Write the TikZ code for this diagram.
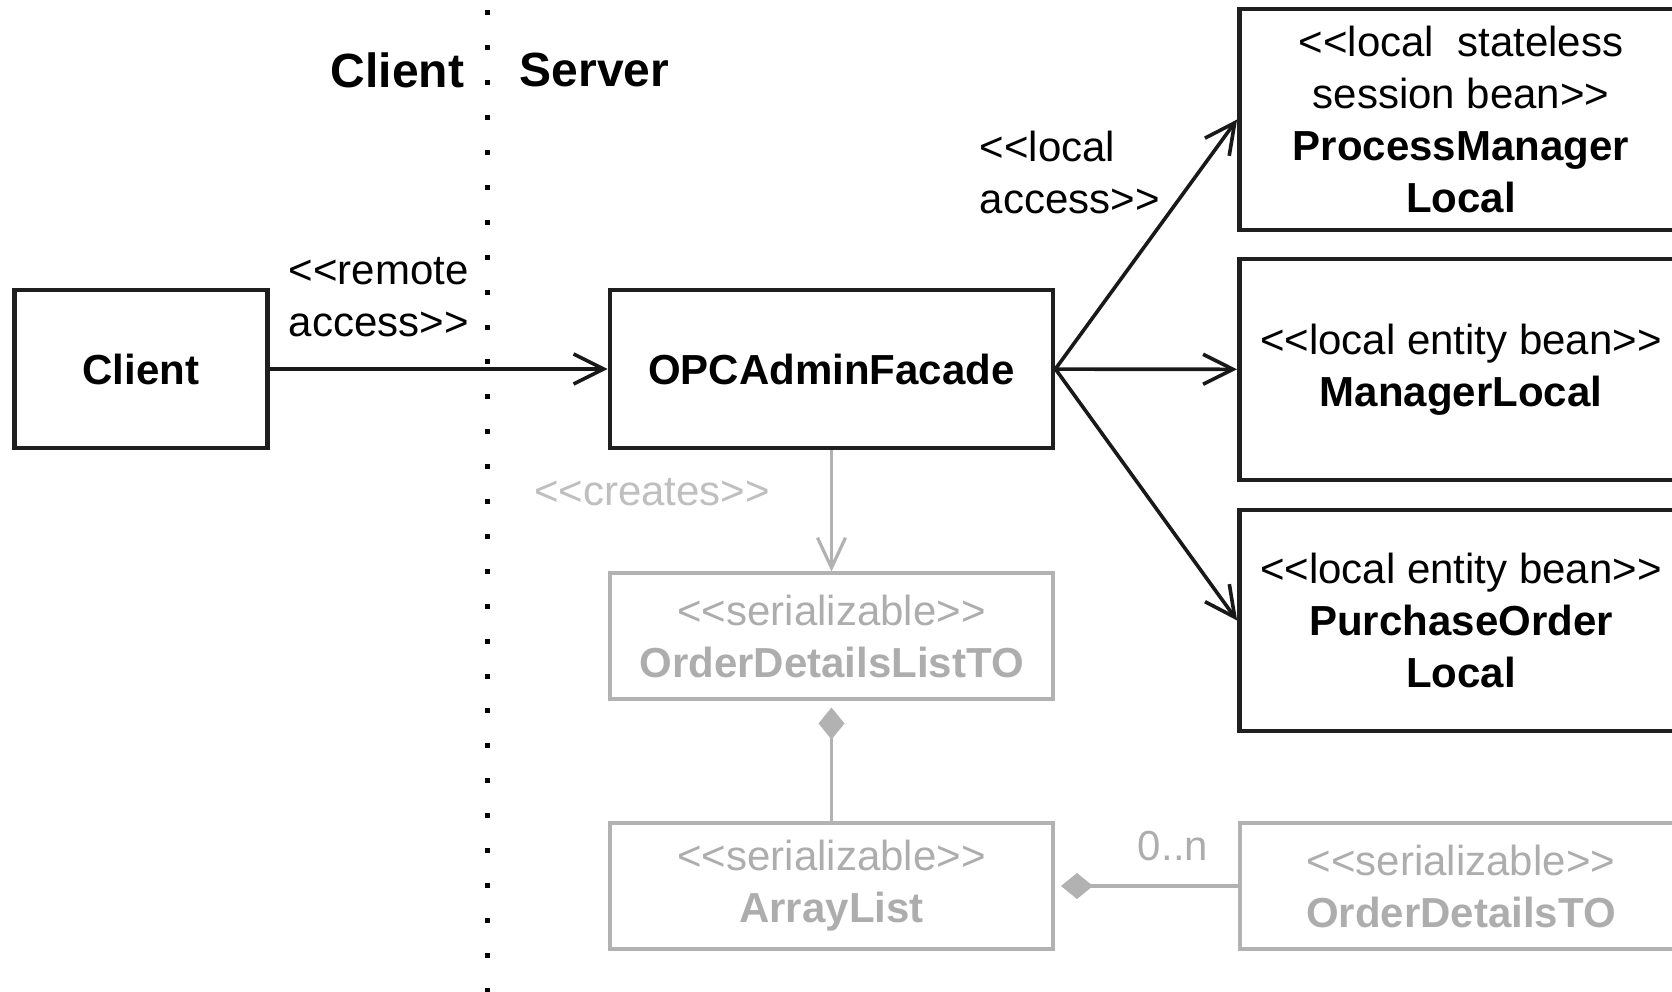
\documentclass[tikz,border=0pt]{standalone}
\usepackage{fontspec}
\setmainfont{Liberation Sans}
\usetikzlibrary{arrows.meta}
\newcommand{\sopen}{<\kern0pt<\kern0pt}
\newcommand{\sclose}{\kern0pt>\kern0pt>}
\tikzset{
    box/.style={draw=black!88, line width=1.2pt, align=center, inner sep=0pt,
        minimum width=110.75pt, minimum height=39.5pt},
    bean/.style={box, minimum height=55.25pt},
    faint/.style={draw=black!30, line width=1pt, text=black!32, align=center,
        inner sep=0pt, minimum width=110.75pt, minimum height=31.5pt},
    lbl/.style={inner sep=0pt, align=left},
    side/.style={inner sep=0pt, font=\fontsize{12pt}{14pt}\selectfont\bfseries},
    call/.style={draw=black!90, line width=0.9pt,
        -{Straight Barb[length=7.5pt,width=7.5pt]}},
    creates/.style={draw=black!30, line width=0.8pt,
        -{Straight Barb[length=7.5pt,width=7pt]}},
    part/.style={draw=black!30, line width=0.8pt, shorten >=1.5pt,
        -{Diamond[length=8pt,width=6.5pt]}}
}
\begin{document}
\begin{tikzpicture}[x=0.25pt, y=-0.25pt, font=\fontsize{10.5pt}{13pt}\selectfont]
    \clip (0,0) rectangle (1672,992);
    \foreach \i in {0,...,28} {
        \fill (484.5,{10.5+34.9*\i}) rectangle ++(5,5);
    }
    \node[side, anchor=east] (clientside) at (465,70) {Client};
    \node[side, anchor=west] (serverside) at (519,70) {Server};

    \node[box, minimum width=63.25pt] (client) at (141,369) {\textbf{Client}};
    \node[box] (facade) at (831.5,369) {\textbf{OPCAdminFacade}};
    \node[bean] (pm) at (1461,119.5)
        {\sopen local\ \ stateless\\session bean\sclose\\\textbf{ProcessManager}\\\textbf{Local}};
    \node[bean] (ml) at (1461,369.5)
        {\sopen local entity bean\sclose\\\textbf{ManagerLocal}};
    \node[bean] (po) at (1461,620.5)
        {\sopen local entity bean\sclose\\\textbf{PurchaseOrder}\\\textbf{Local}};
    \node[faint] (odl) at (831.5,636.5)
        {\sopen serializable\sclose\\\textbf{OrderDetailsListTO}};
    \node[faint] (al) at (831.5,886)
        {\sopen serializable\sclose\\\textbf{ArrayList}};
    \node[faint] (odto) at (1461,886)
        {\sopen serializable\sclose\\\textbf{OrderDetailsTO}};

    \node[lbl, anchor=west] (remote) at (288,297) {\sopen remote\\access\sclose};
    \node[lbl, anchor=west] (local) at (979,172) {\sopen local\\access\sclose};
    \node[lbl, text=black!25] (create) at (652,492) {\sopen creates\sclose};
    \node[lbl, text=black!32] (mult) at (1173,846) {0..n};

    \draw[call] (client) -- (facade);
    \draw[call] (facade.east) -- (pm.west);
    \draw[call] (facade) -- (ml);
    \draw[call] (facade.east) -- (po.west);
    \draw[creates] (facade) -- (odl);
    \draw[part] (al) -- (odl);
    \draw[part] (odto) -- (al);
\end{tikzpicture}
\end{document}
